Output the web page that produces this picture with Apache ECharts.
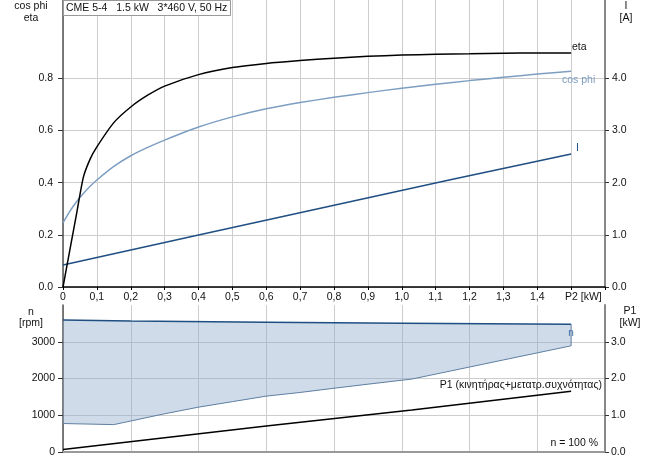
<!DOCTYPE html>
<html><head><meta charset="utf-8">
<script src="https://cdn.jsdelivr.net/npm/echarts@6/dist/echarts.min.js"></script>
<style>html,body{margin:0;padding:0;background:#fff}#c{width:656px;height:460px}</style>
</head><body><div id="c"></div>
<script>
// ---- data ----
const p2Ticks = [0, 0.1, 0.2, 0.3, 0.4, 0.5, 0.6, 0.7, 0.8, 0.9, 1.0, 1.1, 1.2, 1.3, 1.4];
const leftTicks = [0, 0.2, 0.4, 0.6, 0.8];
const currentTicks = [0, 1, 2, 3, 4];
const rpmTicks = [0, 1000, 2000, 3000];
const p1Ticks = [0, 1, 2, 3];

const etaP2 = [0, 0.02, 0.04, 0.06, 0.08, 0.1, 0.15, 0.2, 0.25, 0.3, 0.4, 0.5, 0.6, 0.7, 0.8, 0.9, 1.0, 1.1, 1.2, 1.3, 1.4, 1.5];
const etaVal = [0, 0.14, 0.28, 0.42, 0.49, 0.537, 0.63, 0.69, 0.735, 0.77, 0.814, 0.841, 0.857, 0.868, 0.877, 0.884, 0.889, 0.892, 0.894, 0.896, 0.897, 0.897];

const cosP2 = [0, 0.02, 0.04, 0.06, 0.08, 0.1, 0.15, 0.2, 0.25, 0.3, 0.4, 0.5, 0.6, 0.7, 0.8, 0.9, 1.0, 1.1, 1.2, 1.3, 1.4, 1.5];
const cosVal = [0.246, 0.29, 0.327, 0.358, 0.386, 0.41, 0.462, 0.503, 0.535, 0.563, 0.613, 0.652, 0.683, 0.707, 0.727, 0.745, 0.762, 0.777, 0.791, 0.804, 0.816, 0.827];

const iP2 = [0, 0.4, 1.14, 1.5];
const iVal = [0.42, 0.995, 2.05, 2.55];

const nUpperP2 = [0, 0.2, 0.6, 1.0, 1.5];
const nUpperVal = [3590, 3565, 3530, 3505, 3475];

const nLowerP2 = [0, 0.15, 0.3, 0.4, 0.5, 0.6, 0.7, 0.8, 0.9, 1.03, 1.2, 1.3, 1.4, 1.5];
const nLowerVal = [775, 745, 1040, 1220, 1370, 1520, 1620, 1735, 1845, 1985, 2312, 2505, 2697, 2890];

const p1P2 = [0, 0.6, 1.03, 1.5];
const p1Val = [0.07, 0.71, 1.14, 1.655];

// ---- helpers ----
const zip = (xs, ys) => xs.map((x, i) => [x, ys[i]]);
const FONT = 'Liberation Sans, Arial, sans-serif';
const FS = 10.5;
const gridColor = '#cdcdcd';
const upper = zip(nUpperP2, nUpperVal);
const lower = zip(nLowerP2, nLowerVal);

const chart = echarts.init(document.getElementById('c'), null, {renderer: 'canvas'});

function txt(text, x, y, opts) {
  return {
    type: 'text', x: x, y: y, z: 100,
    style: Object.assign({text: text, fill: '#111', font: FS + 'px ' + FONT, textAlign: 'center', textVerticalAlign: 'middle'}, opts || {})
  };
}

chart.setOption({
  animation: false,
  backgroundColor: '#fff',
  textStyle: {fontFamily: FONT},
  grid: [
    {left: 63, top: 0, width: 542, height: 287},
    {left: 63, top: 305, width: 542, height: 147}
  ],
  xAxis: [
    {
      type: 'value', gridIndex: 0, min: 0, max: 1.6, interval: 0.1,
      axisLine: {show: true, onZero: false, lineStyle: {color: '#000', width: 1.5}},
      axisTick: {show: true, length: 3, lineStyle: {color: '#000'}},
      axisLabel: {
        customValues: p2Ticks, margin: 5, color: '#111', fontSize: FS, fontFamily: FONT,
        formatter: v => { const r = Math.round(v * 10); return r === 0 ? '0' : (r / 10).toFixed(1).replace('.', ','); }
      },
      splitLine: {show: true, lineStyle: {color: gridColor, width: 1}}
    },
    {
      type: 'value', gridIndex: 1, min: 0, max: 1.6, interval: 0.2,
      axisLine: {show: true, onZero: false, lineStyle: {color: '#999', width: 2}},
      axisTick: {show: false}, axisLabel: {show: false},
      splitLine: {show: true, lineStyle: {color: gridColor, width: 1}}
    }
  ],
  yAxis: [
    {
      type: 'value', gridIndex: 0, position: 'left', min: 0, max: 1.1, interval: 0.1,
      axisLine: {show: true, lineStyle: {color: '#555', width: 1.5}},
      axisTick: {show: true, customValues: leftTicks, length: 5, lineStyle: {color: '#333'}},
      axisLabel: {customValues: leftTicks, margin: 10, color: '#111', fontSize: FS, fontFamily: FONT, formatter: v => v.toFixed(1)},
      splitLine: {show: true, lineStyle: {color: gridColor, width: 1}}
    },
    {
      type: 'value', gridIndex: 0, position: 'right', min: 0, max: 5.5, interval: 0.5,
      axisLine: {show: true, lineStyle: {color: '#888', width: 2}},
      axisTick: {show: true, customValues: currentTicks, length: 4, lineStyle: {color: '#333'}},
      axisLabel: {customValues: currentTicks, margin: 7, color: '#111', fontSize: FS, fontFamily: FONT, formatter: v => v.toFixed(1)},
      splitLine: {show: false}
    },
    {
      type: 'value', gridIndex: 1, position: 'left', min: 0, max: 4000, interval: 500,
      axisLine: {show: true, lineStyle: {color: '#555', width: 1.5}},
      axisTick: {show: true, customValues: rpmTicks, length: 5, lineStyle: {color: '#333'}},
      axisLabel: {customValues: rpmTicks, margin: 8, color: '#111', fontSize: FS, fontFamily: FONT, formatter: v => String(Math.round(v))},
      splitLine: {show: true, lineStyle: {color: gridColor, width: 1}}
    },
    {
      type: 'value', gridIndex: 1, position: 'right', min: 0, max: 4, interval: 0.5,
      axisLine: {show: true, lineStyle: {color: '#888', width: 2}},
      axisTick: {show: true, customValues: p1Ticks, length: 4, lineStyle: {color: '#333'}},
      axisLabel: {customValues: p1Ticks, margin: 6, color: '#111', fontSize: FS, fontFamily: FONT, formatter: v => v.toFixed(1)},
      splitLine: {show: false}
    }
  ],
  series: [
    {
      name: 'eta', type: 'line', xAxisIndex: 0, yAxisIndex: 0, data: zip(etaP2, etaVal),
      showSymbol: false, smooth: 0.2, lineStyle: {color: '#000', width: 1.5}, z: 4
    },
    {
      name: 'cos phi', type: 'line', xAxisIndex: 0, yAxisIndex: 0, data: zip(cosP2, cosVal),
      showSymbol: false, smooth: 0.2, lineStyle: {color: '#7d9ec2', width: 1.5}, z: 3
    },
    {
      name: 'I', type: 'line', xAxisIndex: 0, yAxisIndex: 1, data: zip(iP2, iVal),
      showSymbol: false, lineStyle: {color: '#1f4f82', width: 1.5}, z: 3
    },
    {
      name: 'n range', type: 'custom', xAxisIndex: 1, yAxisIndex: 2, data: [[0, 0]], silent: true, z: 1,
      renderItem: function (params, api) {
        const pts = upper.concat(lower.slice().reverse()).map(p => api.coord(p));
        return {type: 'polygon', shape: {points: pts}, style: {fill: 'rgba(140,170,200,0.42)'}};
      }
    },
    {
      name: 'n max', type: 'line', xAxisIndex: 1, yAxisIndex: 2, data: upper,
      showSymbol: false, lineStyle: {color: '#1f4f82', width: 1.5}, z: 3
    },
    {
      name: 'n min', type: 'line', xAxisIndex: 1, yAxisIndex: 2, data: lower,
      showSymbol: false, lineStyle: {color: '#5f7fa3', width: 1}, z: 3
    },
    {
      name: 'n edge', type: 'line', xAxisIndex: 1, yAxisIndex: 2,
      data: [upper[upper.length - 1], lower[lower.length - 1]],
      showSymbol: false, lineStyle: {color: '#5f7fa3', width: 1}, z: 3
    },
    {
      name: 'P1', type: 'line', xAxisIndex: 1, yAxisIndex: 3, data: zip(p1P2, p1Val),
      showSymbol: false, lineStyle: {color: '#000', width: 1.5}, z: 4
    }
  ],
  graphic: [
    {type: 'rect', z: 99, shape: {x: 63.5, y: 0.5, width: 167, height: 15}, style: {fill: '#fff', stroke: '#999', lineWidth: 1}},
    txt('CME 5-4   1.5 kW   3*460 V, 50 Hz', 66, 8, {textAlign: 'left'}),
    txt('cos phi', 31, 6),
    txt('eta', 31, 18),
    txt('I', 626, 6),
    txt('[A]', 626, 18),
    txt('n', 31, 312),
    txt('[rpm]', 31, 323),
    txt('P1', 630, 311),
    txt('[kW]', 630, 323),
    txt('P2 [kW]', 565, 297, {textAlign: 'left'}),
    txt('eta', 572, 47, {textAlign: 'left'}),
    txt('cos phi', 562, 80, {textAlign: 'left', fill: '#7d9ec2'}),
    txt('I', 576, 148, {textAlign: 'left', fill: '#1f4f82'}),
    txt('n', 571, 333, {fill: '#3f6fa8', font: '10px ' + FONT}),
    txt('P1 (κινητήρας+μετατρ.συχνότητας)', 602, 385, {textAlign: 'right'}),
    txt('n = 100 %', 598, 443, {textAlign: 'right'})
  ]
});
</script>
</body></html>
